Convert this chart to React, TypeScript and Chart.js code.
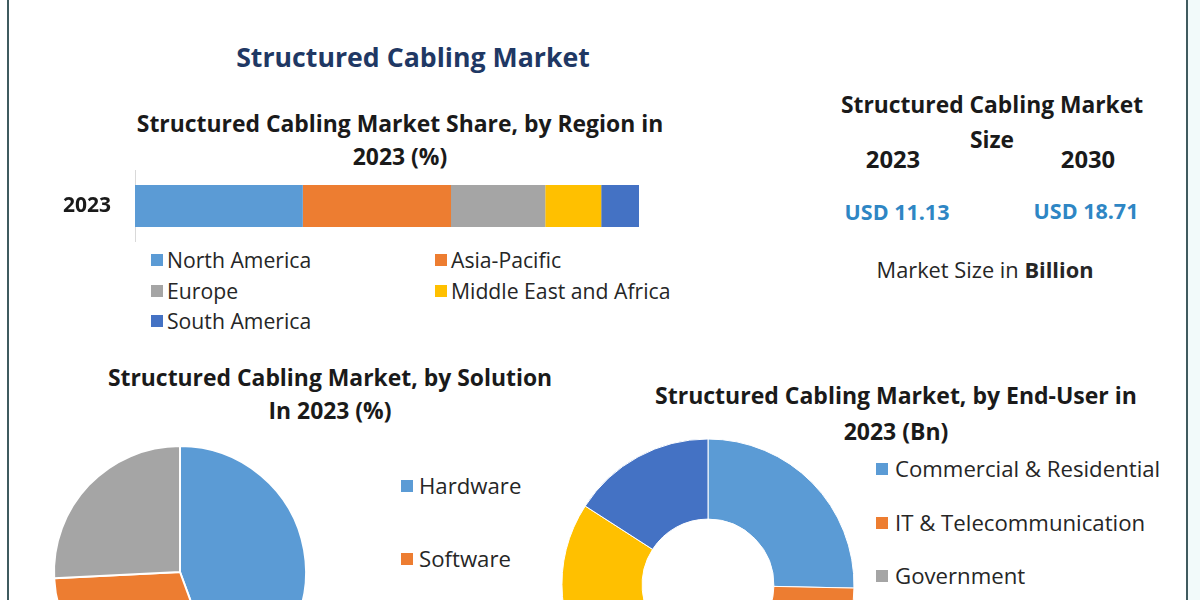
import React, { useEffect, useRef } from "react";
import { Chart, registerables } from "chart.js";

Chart.register(...registerables);

// ---------- DATA ----------
const regionYear = ["2023"];
const regionLabels = ["North America", "Asia-Pacific", "Europe", "Middle East and Africa", "South America"];
const regionShares = [33.3, 29.4, 18.7, 11.1, 7.5];

const solutionLabels = ["Hardware", "Software", "Services"];
const solutionShares = [44.4, 29.8, 25.8];

const endUserLabels = ["Commercial & Residential", "IT & Telecommunication", "Government", "Industrial", "Others"];
const endUserValues = [2.82, 2.22, 2.01, 2.31, 1.77];

const sizeYears = ["2023", "2030"];
const sizeValues = ["USD 11.13", "USD 18.71"];

// ---------- STYLE ----------
const PALETTE = ["#5b9bd5", "#ed7d31", "#a5a5a5", "#ffc000", "#4472c4"];
const FONT = "'Open Sans', Lato, sans-serif";

type TProps = { x: number; y: number; size: number; bold?: boolean; color?: string; left?: boolean; children: React.ReactNode };
const T = ({ x, y, size, bold, color, left, children }: TProps) => (
  <div
    style={{
      position: "absolute",
      left: x,
      top: y,
      transform: left ? "translate(0,-50%)" : "translate(-50%,-50%)",
      fontFamily: FONT,
      fontSize: size,
      fontWeight: bold ? 700 : 400,
      color: color || "#1a1a1a",
      whiteSpace: "nowrap",
      lineHeight: 1,
    }}
  >
    {children}
  </div>
);

const Swatch = ({ x, y, color }: { x: number; y: number; color: string }) => (
  <div style={{ position: "absolute", left: x, top: y - 6, width: 12, height: 12, background: color }} />
);

function useChart(ref: React.RefObject<HTMLCanvasElement>, make: (c: HTMLCanvasElement) => Chart) {
  useEffect(() => {
    if (!ref.current) return;
    const ch = make(ref.current);
    return () => ch.destroy();
  }, []);
}

export default function App() {
  const barRef = useRef<HTMLCanvasElement>(null);
  const pieRef = useRef<HTMLCanvasElement>(null);
  const donutRef = useRef<HTMLCanvasElement>(null);

  useChart(barRef, (c) =>
    new Chart(c, {
      type: "bar",
      data: {
        labels: regionYear,
        datasets: regionLabels.map((l, i) => ({
          label: l,
          data: [regionShares[i]],
          backgroundColor: PALETTE[i],
          borderWidth: 0,
          barPercentage: 1,
          categoryPercentage: 0.585,
        })),
      },
      options: {
        indexAxis: "y",
        responsive: false,
        maintainAspectRatio: false,
        animation: false,
        layout: { padding: 0 },
        plugins: { legend: { display: false }, tooltip: { enabled: false } },
        scales: {
          x: {
            stacked: true,
            min: 0,
            max: 100,
            ticks: { display: false },
            grid: { display: false, drawTicks: false },
            border: { display: false },
          },
          y: {
            stacked: true,
            grid: { display: false, drawTicks: false },
            border: { display: true, color: "#d9d9d9", width: 1 },
            ticks: { padding: 24, color: "#1a1a1a", font: { family: FONT, size: 21, weight: "bold" } },
            afterFit: (s: any) => {
              s.width = 95;
              s.paddingTop = 0;
              s.paddingBottom = 0;
            },
          },
        },
      },
    } as any)
  );

  useChart(pieRef, (c) =>
    new Chart(c, {
      type: "pie",
      data: {
        labels: solutionLabels,
        datasets: [
          {
            data: solutionShares,
            backgroundColor: PALETTE.slice(0, 3),
            borderColor: "#ffffff",
            borderWidth: 2,
            radius: 126,
          },
        ],
      },
      options: {
        responsive: false,
        animation: false,
        plugins: { legend: { display: false }, tooltip: { enabled: false } },
      },
    } as any)
  );

  useChart(donutRef, (c) =>
    new Chart(c, {
      type: "doughnut",
      data: {
        labels: endUserLabels,
        datasets: [
          {
            data: endUserValues,
            backgroundColor: PALETTE,
            borderColor: "#ffffff",
            borderWidth: 1,
            radius: 146,
            cutout: 72,
          },
        ],
      },
      options: {
        responsive: false,
        animation: false,
        plugins: { legend: { display: false }, tooltip: { enabled: false } },
      },
    } as any)
  );

  const regionLegendPos = [
    [151, 260],
    [435, 260],
    [151, 291],
    [435, 291],
    [151, 321],
  ];

  return (
    <div
      style={{
        position: "absolute",
        left: 0,
        top: 0,
        width: 1200,
        height: 600,
        overflow: "hidden",
        background: "#ffffff",
      }}
    >
      {/* frame */}
      <div style={{ position: "absolute", left: 7, top: 0, width: 2, height: 600, background: "#3f5b5f" }} />
      <div style={{ position: "absolute", left: 1186, top: 0, width: 2, height: 600, background: "#3f5b5f" }} />
      <div style={{ position: "absolute", left: 1188, top: 0, width: 12, height: 600, background: "#f2fafa" }} />

      <T x={413} y={57} size={26.7} bold color="#1f3864">Structured Cabling Market</T>

      {/* Region bar */}
      <T x={400} y={124} size={22.9} bold>Structured Cabling Market Share, by Region in</T>
      <T x={400} y={157} size={22.9} bold>2023 (%)</T>
      <canvas ref={barRef} width={599} height={72} style={{ position: "absolute", left: 40, top: 170 }} />
      {regionLegendPos.map((p, i) => (
        <React.Fragment key={regionLabels[i]}>
          <Swatch x={p[0]} y={p[1]} color={PALETTE[i]} />
          <T x={p[0] + 16} y={p[1]} size={21.2} left color="#262626">{regionLabels[i]}</T>
        </React.Fragment>
      ))}

      {/* Market size */}
      <T x={992} y={105} size={22.8} bold>Structured Cabling Market</T>
      <T x={992} y={140} size={22.8} bold>Size</T>
      <T x={893} y={160} size={23.8} bold>{sizeYears[0]}</T>
      <T x={1088} y={160} size={23.8} bold>{sizeYears[1]}</T>
      <T x={897} y={212} size={21.5} bold color="#2e86c4">{sizeValues[0]}</T>
      <T x={1086} y={211} size={21.5} bold color="#2e86c4">{sizeValues[1]}</T>
      <T x={985} y={270} size={21.8} color="#262626">
        Market Size in <b>Billion</b>
      </T>

      {/* Solution pie */}
      <T x={330} y={378} size={22.9} bold>Structured Cabling Market, by Solution</T>
      <T x={330} y={411} size={22.9} bold>In 2023 (%)</T>
      <canvas ref={pieRef} width={300} height={300} style={{ position: "absolute", left: 30, top: 422 }} />
      {solutionLabels.map((l, i) => (
        <React.Fragment key={l}>
          <Swatch x={401} y={486 + i * 73} color={PALETTE[i]} />
          <T x={419} y={486 + i * 73} size={22.2} left color="#262626">{l}</T>
        </React.Fragment>
      ))}

      {/* End-user donut */}
      <T x={896} y={395} size={23} bold>Structured Cabling Market, by End-User in</T>
      <T x={896} y={431} size={23} bold>2023 (Bn)</T>
      <canvas ref={donutRef} width={320} height={320} style={{ position: "absolute", left: 548, top: 425 }} />
      {endUserLabels.map((l, i) => (
        <React.Fragment key={l}>
          <Swatch x={876} y={469 + i * 53.5} color={PALETTE[i]} />
          <T x={895} y={469 + i * 53.5} size={22.2} left color="#262626">{l}</T>
        </React.Fragment>
      ))}
    </div>
  );
}
